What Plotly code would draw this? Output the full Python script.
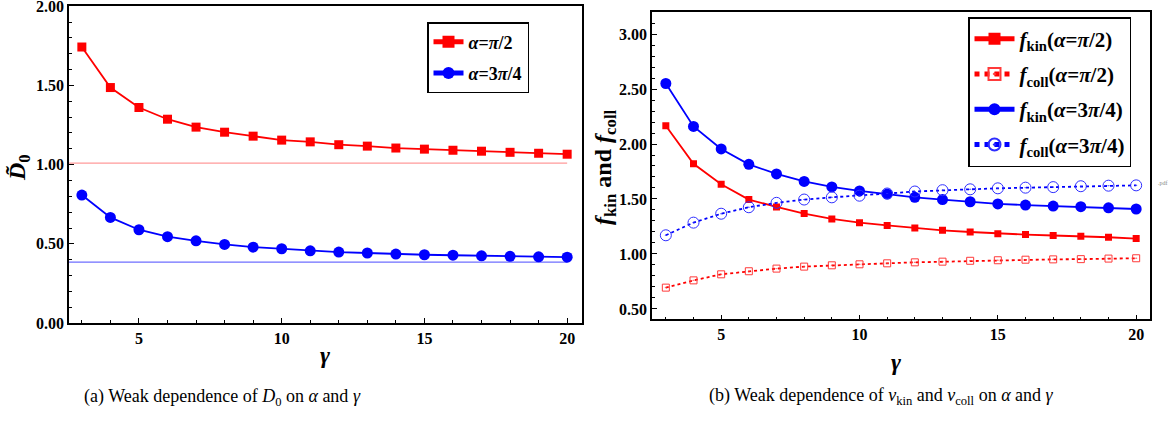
import plotly.graph_objects as go

# ---------------- data ----------------
gamma = list(range(3, 21))

d0_pi2 = [1.743, 1.487, 1.361, 1.287, 1.237, 1.205, 1.180, 1.155, 1.144, 1.126,
          1.117, 1.105, 1.098, 1.091, 1.085, 1.078, 1.072, 1.066]
d0_3pi4 = [0.808, 0.667, 0.589, 0.545, 0.519, 0.496, 0.479, 0.469, 0.456, 0.448,
           0.442, 0.435, 0.431, 0.428, 0.424, 0.421, 0.418, 0.416]
d0_pi2_limit = 1.01
d0_3pi4_limit = 0.385
limit_span = [2.55, 20]

fkin_pi2 = [2.166, 1.820, 1.634, 1.495, 1.428, 1.367, 1.319, 1.285, 1.260, 1.237,
            1.215, 1.200, 1.185, 1.176, 1.168, 1.162, 1.152, 1.140]
fcoll_pi2 = [0.694, 0.760, 0.815, 0.843, 0.867, 0.885, 0.897, 0.906, 0.915, 0.924,
             0.930, 0.938, 0.943, 0.948, 0.951, 0.953, 0.958, 0.961]
fkin_3pi4 = [2.550, 2.160, 1.955, 1.815, 1.728, 1.660, 1.610, 1.573, 1.545, 1.515,
             1.495, 1.475, 1.455, 1.445, 1.436, 1.430, 1.420, 1.409]
fcoll_3pi4 = [1.170, 1.285, 1.366, 1.425, 1.465, 1.495, 1.515, 1.530, 1.550, 1.568,
              1.580, 1.588, 1.597, 1.603, 1.608, 1.616, 1.621, 1.624]

lbl_pi2 = "<b><i>α</i>=<i>π</i>/2</b>"
lbl_3pi4 = "<b><i>α</i>=3<i>π</i>/4</b>"
lbl_fkin_pi2 = "<b><i>f</i><sub>kin</sub>(<i>α</i>=<i>π</i>/2)</b>"
lbl_fcoll_pi2 = "<b><i>f</i><sub>coll</sub>(<i>α</i>=<i>π</i>/2)</b>"
lbl_fkin_3pi4 = "<b><i>f</i><sub>kin</sub>(<i>α</i>=3<i>π</i>/4)</b>"
lbl_fcoll_3pi4 = "<b><i>f</i><sub>coll</sub>(<i>α</i>=3<i>π</i>/4)</b>"

RED = "#FF0000"
BLUE = "#0000FF"
SERIF = "Liberation Serif, Times New Roman, DejaVu Serif, serif"

W, H = 1174, 421

fig = go.Figure()

# ---------------- left panel ----------------
fig.add_trace(go.Scatter(x=limit_span, y=[d0_pi2_limit] * 2, mode="lines",
                         line=dict(color="#FF9A9A", width=1.2), showlegend=False,
                         xaxis="x", yaxis="y", hoverinfo="skip"))
fig.add_trace(go.Scatter(x=limit_span, y=[d0_3pi4_limit] * 2, mode="lines",
                         line=dict(color="#6E6EFF", width=1.2), showlegend=False,
                         xaxis="x", yaxis="y", hoverinfo="skip"))
fig.add_trace(go.Scatter(x=gamma, y=d0_pi2, mode="lines+markers", name=lbl_pi2,
                         line=dict(color=RED, width=1.8),
                         marker=dict(symbol="square", size=9, color=RED),
                         xaxis="x", yaxis="y", legend="legend", legendgroup="a1"))
fig.add_trace(go.Scatter(x=gamma, y=d0_3pi4, mode="lines+markers", name=lbl_3pi4,
                         line=dict(color=BLUE, width=1.8),
                         marker=dict(symbol="circle", size=11, color=BLUE),
                         xaxis="x", yaxis="y", legend="legend", legendgroup="a2"))

# ---------------- right panel ----------------
fig.add_trace(go.Scatter(x=gamma, y=fkin_pi2, mode="lines+markers", name=lbl_fkin_pi2,
                         line=dict(color=RED, width=1.8),
                         marker=dict(symbol="square", size=7, color=RED),
                         xaxis="x2", yaxis="y2", legend="legend2", legendgroup="b1"))
fig.add_trace(go.Scatter(x=gamma, y=fcoll_pi2, mode="lines+markers", name=lbl_fcoll_pi2,
                         line=dict(color=RED, width=1.8, dash="dot"),
                         marker=dict(symbol="square-open-dot", size=7, color="#FF3A3A",
                                     line=dict(width=1)),
                         xaxis="x2", yaxis="y2", legend="legend2", legendgroup="b2"))
fig.add_trace(go.Scatter(x=gamma, y=fkin_3pi4, mode="lines+markers", name=lbl_fkin_3pi4,
                         line=dict(color=BLUE, width=1.8),
                         marker=dict(symbol="circle", size=11, color=BLUE),
                         xaxis="x2", yaxis="y2", legend="legend2", legendgroup="b3"))
fig.add_trace(go.Scatter(x=gamma, y=fcoll_3pi4, mode="lines+markers", name=lbl_fcoll_3pi4,
                         line=dict(color=BLUE, width=1.8, dash="dot"),
                         marker=dict(symbol="circle-open-dot", size=11, color="#2E2EFF",
                                     line=dict(width=1)),
                         xaxis="x2", yaxis="y2", legend="legend2", legendgroup="b4"))

tickfont = dict(family=SERIF, size=16, color="black", weight="bold")

def xaxis_cfg(domain, rng, anchor):
    return dict(domain=domain, range=rng, anchor=anchor, showgrid=False, zeroline=False,
                showline=True, linecolor="black", linewidth=1.5, mirror=True,
                automargin=False,
                ticks="inside", ticklen=5, tickwidth=1, tickcolor="black",
                tickvals=[5, 10, 15, 20], ticktext=["5", "10", "15", "20"],
                tickfont=tickfont, ticklabeloverflow="allow",
                minor=dict(ticks="inside", ticklen=3, tickwidth=1, tickcolor="black",
                           tickvals=list(range(3, 21))))

def yaxis_cfg(domain, rng, anchor, vals):
    return dict(domain=domain, range=rng, anchor=anchor, showgrid=False, zeroline=False,
                showline=True, linecolor="black", linewidth=1.5, mirror=True,
                automargin=False,
                ticks="inside", ticklen=5, tickwidth=1, tickcolor="black",
                tickvals=vals, ticktext=[f"{v:.2f}" for v in vals],
                tickfont=tickfont, ticklabeloverflow="allow",
                minor=dict(ticks="inside", ticklen=3, tickwidth=1, tickcolor="black",
                           dtick=0.1))

legend_common = dict(bgcolor="white", bordercolor="black", borderwidth=1.5,
                     xanchor="left", yanchor="top", itemsizing="constant")

fig.update_layout(
    width=W, height=H,
    margin=dict(l=0, r=0, t=0, b=0, autoexpand=False),
    paper_bgcolor="white", plot_bgcolor="white",
    xaxis=xaxis_cfg([69 / W, 582 / W], [2.55, 20.52], "y"),
    yaxis=yaxis_cfg([1 - 323 / H, 1 - 6 / H], [0, 2.002], "x", [0, 0.5, 1.0, 1.5, 2.0]),
    xaxis2=xaxis_cfg([652 / W, 1150 / W], [2.5, 20.5], "y2"),
    yaxis2=yaxis_cfg([1 - 319.3 / H, 1 - 11.7 / H], [0.406, 3.203], "x2",
                     [0.5, 1.0, 1.5, 2.0, 2.5, 3.0]),
    legend=dict(x=427 / W, y=1 - 22 / H, tracegroupgap=5,
                font=dict(family=SERIF, size=18, color="black"), **legend_common),
    legend2=dict(x=968 / W, y=1 - 17 / H, tracegroupgap=5, itemwidth=40,
                 font=dict(family=SERIF, size=21, color="black"), **legend_common),
    showlegend=True,
)

ann = []
def note(x, y, text, size, angle=0, color="black", family=SERIF):
    ann.append(dict(x=x / W, y=1 - y / H, xref="paper", yref="paper", text=text,
                    showarrow=False, textangle=angle, xanchor="center", yanchor="middle",
                    font=dict(family=family, size=size, color=color)))

note(325, 355, "<b><i>γ</i></b>", 24)
note(896, 362, "<b><i>γ</i></b>", 24)
note(19, 168, "<b><i>D̃</i><sub>0</sub></b>", 24, angle=-90)
note(605, 167, "<b><i>f</i><sub>kin</sub> and <i>f</i><sub>coll</sub></b>", 24, angle=-90)
note(222, 397, "(a) Weak dependence of <i>D</i><sub>0</sub> on <i>α</i> and <i>γ</i>", 18)
note(881, 396, "(b) Weak dependence of <i>ν</i><sub>kin</sub> and <i>ν</i><sub>coll</sub> on <i>α</i> and <i>γ</i>", 18)
note(1163, 183, ".pdf", 6, color="#888888")
fig.update_layout(annotations=ann)

fig.write_html("out.html",
               config={"displayModeBar": False},
               post_script="document.body.style.margin='0';document.body.style.overflow='hidden';")
